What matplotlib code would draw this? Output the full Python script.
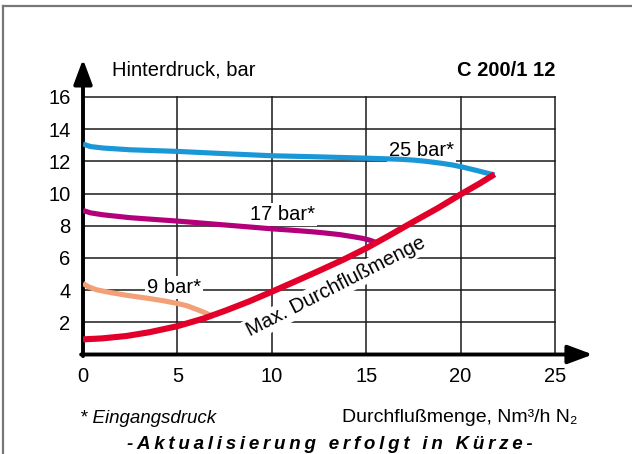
import matplotlib
matplotlib.use('Agg')
import matplotlib.pyplot as plt
from matplotlib.lines import Line2D

plt.rcParams['font.family'] = ['Liberation Sans', 'DejaVu Sans']

# curves (x = Nm3/h, y = bar)
blue_x = [0, 0.4, 1.06, 2.5, 5, 7.5, 10, 12.5, 15, 16.8, 17.5, 18.2, 19, 19.6, 20.2, 20.9, 21.3, 21.8]
blue_y = [13.08, 12.92, 12.83, 12.72, 12.62, 12.48, 12.35, 12.28, 12.2, 12.13, 12.08, 12.0, 11.88, 11.77,
          11.62, 11.42, 11.3, 11.15]
purple_x = [0, 0.4, 1.06, 2.5, 5, 7.5, 10, 11.1, 12.2, 12.9, 13.6, 14.3, 14.8, 15.2, 15.5]
purple_y = [8.95, 8.8, 8.68, 8.5, 8.29, 8.05, 7.81, 7.72, 7.62, 7.54, 7.45, 7.32, 7.22, 7.1, 6.97]
orange_x = [0, 0.3, 0.72, 1.5, 2.3, 3.5, 4.3, 5, 5.5, 5.85, 6.2, 6.55, 6.8]
orange_y = [4.42, 4.2, 4.02, 3.84, 3.68, 3.48, 3.33, 3.17, 3.03, 2.88, 2.72, 2.55, 2.4]
red_x = [0, 1, 2.3, 3.5, 5, 6.4, 7.6, 8.8, 10, 11.2, 12.5, 13.8, 15, 16.2, 17.5, 18.8, 20, 21, 21.8]
red_y = [0.94, 1.0, 1.15, 1.38, 1.76, 2.24, 2.75, 3.3, 3.9, 4.52, 5.2, 5.9, 6.6, 7.38, 8.25, 9.1, 9.95, 10.62, 11.2]

x_ticks = [0, 5, 10, 15, 20, 25]
y_ticks = [2, 4, 6, 8, 10, 12, 14, 16]

fig = plt.figure(figsize=(6.32, 4.54), dpi=100)
ax = fig.add_axes([83 / 632, 99.5 / 454, 472 / 632, 257.5 / 454])
ax.set_xlim(0, 25)
ax.set_ylim(0, 16)
for s in ax.spines.values():
    s.set_visible(False)
ax.set_xticks(x_ticks)
ax.set_yticks(y_ticks)
ax.tick_params(length=0, labelsize=14.5)
ax.tick_params(axis='x', pad=9)
ax.tick_params(axis='y', pad=9)
ax.set_axisbelow(True)
ax.grid(True, color='#1a1a1a', lw=1.1)
for gl in ax.get_xgridlines() + ax.get_ygridlines():
    gl.set_clip_on(False)

ax.plot(blue_x, blue_y, color='#1a97d6', lw=3.7, zorder=4, solid_capstyle='butt', solid_joinstyle='round')
ax.plot(purple_x, purple_y, color='#b3007a', lw=3.7, zorder=4, solid_capstyle='butt', solid_joinstyle='round')
ax.plot(orange_x, orange_y, color='#f2a077', lw=3.7, zorder=4, solid_capstyle='butt', solid_joinstyle='round')
ax.plot(red_x, red_y, color='#e2002a', lw=4.4, zorder=5, solid_capstyle='butt', solid_joinstyle='round')

# axis arrows
arrow = dict(arrowstyle='-|>,head_length=0.75,head_width=0.28', lw=2.8, color='black',
             mutation_scale=20, shrinkA=0, shrinkB=0)
ax.annotate('', xy=(0, 18.35), xytext=(0, -0.1), arrowprops=arrow, annotation_clip=False)
ax.annotate('', xy=(27.0, 0), xytext=(-0.1, 0), arrowprops=arrow, annotation_clip=False)

box = dict(facecolor='white', edgecolor='none', pad=1.5)
ax.text(17.95, 12.35, '25 bar*', fontsize=14.5, ha='center', va='baseline', bbox=box, zorder=3)
ax.text(10.55, 8.33, '17 bar*', fontsize=14.5, ha='center', va='baseline', bbox=box, zorder=3)
ax.text(4.8, 3.8, '9 bar*', fontsize=14.5, ha='center', va='baseline', bbox=box, zorder=3)
ax.text(13.4, 4.2, 'Max. Durchflußmenge', fontsize=14.5, rotation=27, rotation_mode='anchor',
        ha='center', va='center', bbox=box, zorder=3)

fig.text(112 / 632, 1 - 76 / 454, 'Hinterdruck, bar', fontsize=14.5, va='baseline')
fig.text(555 / 632, 1 - 76 / 454, 'C 200/1 12', fontsize=14.5, fontweight='bold',
         ha='right', va='baseline')
fig.text(80 / 632, 1 - 423 / 454, '* Eingangsdruck', fontsize=13.5, style='italic', va='baseline')
fig.text(577 / 632, 1 - 422 / 454, 'Durchflußmenge, Nm³/h N₂', fontsize=14, ha='right', va='baseline')

note = '-Aktualisierung erfolgt in Kürze-'
fig.text(330 / 632, 1 - 449 / 454, '\u2009'.join(note), fontsize=13.5, fontweight='bold',
         style='italic', ha='center', va='baseline')

# frame
fig.add_artist(Line2D([3 / 632, 1], [1 - 6 / 454, 1 - 6 / 454], transform=fig.transFigure,
                      color='#777777', lw=1.6))
fig.add_artist(Line2D([3 / 632, 3 / 632], [0, 1 - 6 / 454], transform=fig.transFigure,
                      color='#777777', lw=1.6))

fig.savefig('out.png', dpi=100)
